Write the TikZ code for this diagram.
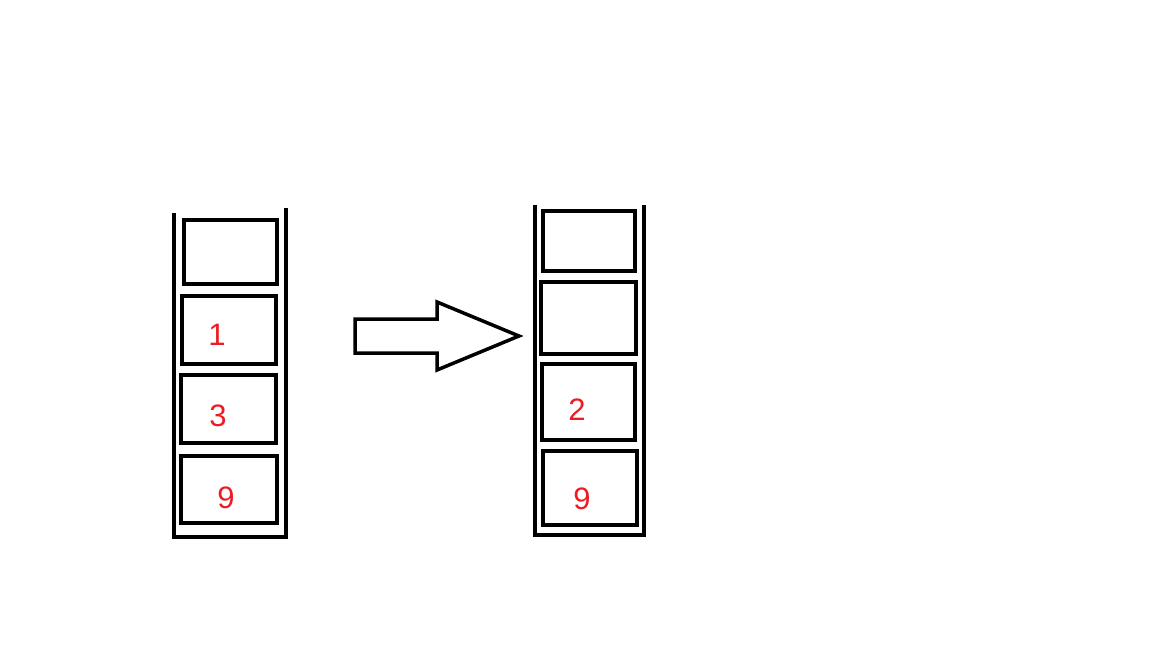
\documentclass[tikz,border=0pt]{standalone}
\usepackage{fontspec}
\setmainfont{Liberation Sans}
\usetikzlibrary{fit}
\definecolor{numred}{RGB}{237,28,36}
\tikzset{
  cell/.style={draw=black, line width=4pt, inner sep=0pt, outer sep=0pt, rectangle},
  wall/.style={draw=black, line width=4pt, line join=miter},
  num/.style={text=numred, font=\fontsize{31}{31}\selectfont, inner sep=0pt},
  bigarrow/.style={draw=black, line width=3.5pt, line join=miter}
}
\begin{document}
\begin{tikzpicture}[x=1pt,y=-1pt]
\useasboundingbox (0,0) rectangle (1152,648);
% left container
\coordinate (LTL) at (174,213);
\coordinate (LBL) at (174,537);
\coordinate (LBR) at (286,537);
\coordinate (LTR) at (286,208);
\draw[wall] (LTL) -- (LBL) -- (LBR) -- (LTR);
\node[cell, fit={(184,220)(277,284)}] (l1) {};
\node[cell, fit={(182,296)(276,364)}] (l2) {};
\node[cell, fit={(181,375)(276,443)}] (l3) {};
\node[cell, fit={(181,456)(277,523)}] (l4) {};
\node[num] (n1) at (217,335) {1};
\node[num] (n3) at (218,416) {3};
\node[num] (n9a) at (226,498) {9};
% arrow
\coordinate (A1) at (355,319);
\coordinate (A2) at (437,319);
\coordinate (A3) at (437,302);
\coordinate (A4) at (519,336);
\coordinate (A5) at (437,370);
\coordinate (A6) at (437,353);
\coordinate (A7) at (355,353);
\draw[bigarrow] (A1) -- (A2) -- (A3) -- (A4) -- (A5) -- (A6) -- (A7) -- cycle;
% right container
\coordinate (RTL) at (535,205);
\coordinate (RBL) at (535,535);
\coordinate (RBR) at (644,535);
\coordinate (RTR) at (644,205);
\draw[wall] (RTL) -- (RBL) -- (RBR) -- (RTR);
\node[cell, fit={(543,211)(635,271)}] (r1) {};
\node[cell, fit={(541,282)(636,354)}] (r2) {};
\node[cell, fit={(542,364)(635,440)}] (r3) {};
\node[cell, fit={(543,451)(637,525)}] (r4) {};
\node[num] (n2) at (577,410) {2};
\node[num] (n9b) at (582,499) {9};
\end{tikzpicture}
\end{document}
